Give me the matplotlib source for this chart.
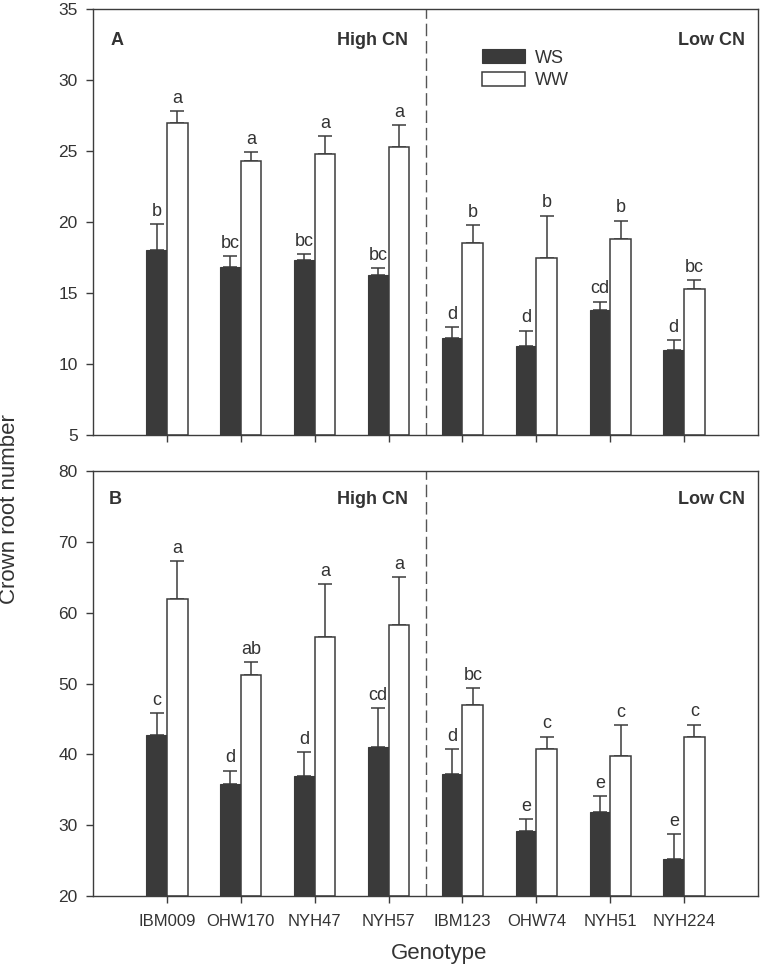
import matplotlib
matplotlib.use("Agg")
import matplotlib.pyplot as plt
from matplotlib.patches import Patch
import numpy as np

plt.rcParams['font.family'] = ['Liberation Sans', 'DejaVu Sans']

genotypes = ['IBM009', 'OHW170', 'NYH47', 'NYH57', 'IBM123', 'OHW74', 'NYH51', 'NYH224']

# panel A
a_ws = [18.0, 16.8, 17.3, 16.3, 11.8, 11.3, 13.8, 11.0]
a_ws_err = [1.85, 0.8, 0.45, 0.47, 0.8, 1.05, 0.6, 0.68]
a_ww = [27.0, 24.3, 24.8, 25.3, 18.5, 17.5, 18.8, 15.3]
a_ww_err = [0.82, 0.6, 1.25, 1.53, 1.3, 2.95, 1.3, 0.6]
a_ws_let = ['b', 'bc', 'bc', 'bc', 'd', 'd', 'cd', 'd']
a_ww_let = ['a', 'a', 'a', 'a', 'b', 'b', 'b', 'bc']

# panel B
b_ws = [42.8, 35.8, 37.0, 41.0, 37.2, 29.2, 31.8, 25.2]
b_ws_err = [3.0, 1.9, 3.3, 5.5, 3.5, 1.65, 2.3, 3.5]
b_ww = [62.0, 51.2, 56.5, 58.3, 47.0, 40.8, 39.7, 42.5]
b_ww_err = [5.3, 1.85, 7.55, 6.7, 2.35, 1.7, 4.4, 1.7]
b_ws_let = ['c', 'd', 'd', 'cd', 'd', 'e', 'e', 'e']
b_ww_let = ['a', 'ab', 'a', 'a', 'bc', 'c', 'c', 'c']

dark = '#3a3a3a'
edge = '#3c3c3c'
txt = '#333333'

fig = plt.figure(figsize=(7.6, 9.65), dpi=100)
ax1 = fig.add_axes([0.1224, 0.5492, 0.875, 0.4415])
ax2 = fig.add_axes([0.1224, 0.0715, 0.875, 0.4404])

x = np.arange(1, 9)
w = 0.28


def draw(ax, ws, ws_err, ww, ww_err, ws_let, ww_let, ylim, yticks):
    bot = ylim[0]
    ax.bar(x - w / 2, np.array(ws) - bot, w, bottom=bot, color=dark, edgecolor=dark, linewidth=0.8, zorder=2)
    ax.bar(x + w / 2, np.array(ww) - bot, w, bottom=bot, color='white', edgecolor=edge, linewidth=1.1, zorder=2)
    ax.errorbar(x - w / 2, ws, yerr=[np.zeros(8), ws_err], fmt='none', ecolor=edge,
                elinewidth=1.1, capsize=5, capthick=1.1, zorder=1)
    ax.errorbar(x + w / 2, ww, yerr=[np.zeros(8), ww_err], fmt='none', ecolor=edge,
                elinewidth=1.1, capsize=5, capthick=1.1, zorder=1)
    for i in range(8):
        ax.annotate(ws_let[i], (x[i] - w / 2, ws[i] + ws_err[i]), xytext=(0, 3),
                    textcoords='offset points', ha='center', va='bottom', fontsize=13, color=txt)
        ax.annotate(ww_let[i], (x[i] + w / 2, ww[i] + ww_err[i]), xytext=(0, 3),
                    textcoords='offset points', ha='center', va='bottom', fontsize=13, color=txt)
    ax.axvline(4.5, color='#555555', linewidth=1.0, linestyle=(0, (9, 3.5)), zorder=0)
    ax.set_xlim(0, 9)
    ax.set_ylim(*ylim)
    ax.set_yticks(yticks)
    ax.set_xticks(x)
    for s in ax.spines.values():
        s.set_color(edge)
        s.set_linewidth(1.0)
    ax.tick_params(direction='out', length=5, width=1.0, color=edge, labelsize=12.5,
                   labelcolor=txt)
    ax.tick_params(axis='y', pad=6)
    ax.tick_params(axis='x', pad=8)


draw(ax1, a_ws, a_ws_err, a_ww, a_ww_err, a_ws_let, a_ww_let, (5, 35), np.arange(5, 36, 5))
draw(ax2, b_ws, b_ws_err, b_ww, b_ww_err, b_ws_let, b_ww_let, (20, 80), np.arange(20, 81, 10))

ax1.set_xticklabels([])
ax2.set_xticklabels(genotypes, fontsize=12)

ax1.text(0.027, 0.927, 'A', transform=ax1.transAxes, fontsize=13, fontweight='bold',
         color=txt, ha='left', va='center')
ax2.text(0.024, 0.932, 'B', transform=ax2.transAxes, fontsize=13, fontweight='bold',
         color=txt, ha='left', va='center')
for ax, yy in [(ax1, 0.927), (ax2, 0.932)]:
    ax.text(0.474, yy, 'High CN', transform=ax.transAxes, fontsize=13, fontweight='bold',
            color=txt, ha='right', va='center')
    ax.text(0.980, yy, 'Low CN', transform=ax.transAxes, fontsize=13, fontweight='bold',
            color=txt, ha='right', va='center')

handles = [Patch(facecolor=dark, edgecolor=dark, linewidth=0.8),
           Patch(facecolor='white', edgecolor=edge, linewidth=1.1)]
ax1.legend(handles, ['WS', 'WW'], loc='upper left', bbox_to_anchor=(0.585, 0.905),
           frameon=False, fontsize=13, handlelength=2.4, handleheight=0.8,
           handletextpad=0.55, labelspacing=0.3, borderpad=0, borderaxespad=0,
           labelcolor=txt)

fig.text(0.013, 0.4725, 'Crown root number', rotation=90, fontsize=16, color=txt,
         ha='center', va='center')
fig.text(439 / 760, 1 - 953 / 965, 'Genotype', fontsize=16, color=txt,
         ha='center', va='center')

fig.savefig('out.png', dpi=100)
